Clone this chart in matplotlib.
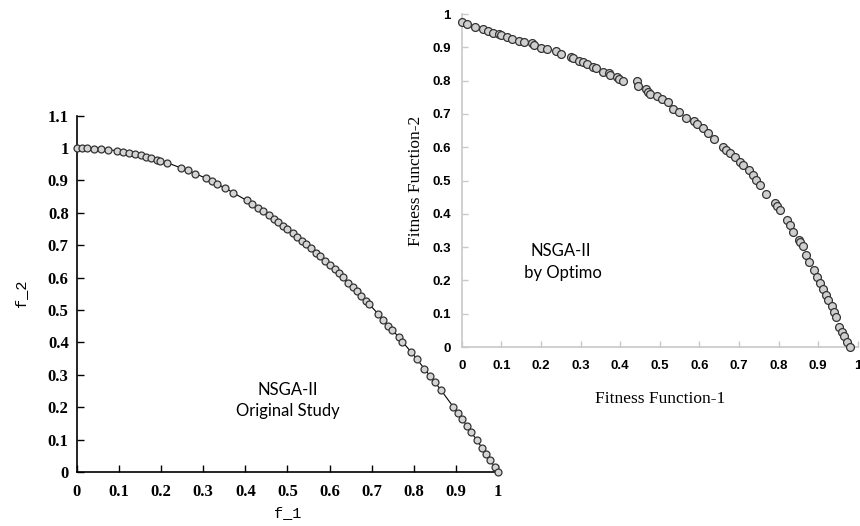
import matplotlib
matplotlib.use('Agg')
import matplotlib.pyplot as plt

# left panel: NSGA-II original study
orig_f1 = [0.0, 0.013, 0.024, 0.04, 0.058, 0.074, 0.096, 0.109, 0.123, 0.139,
           0.151, 0.163, 0.177, 0.19, 0.198, 0.213, 0.248, 0.263, 0.281, 0.307,
           0.321, 0.332, 0.352, 0.371, 0.403, 0.415, 0.429, 0.443, 0.455, 0.468,
           0.478, 0.49, 0.5, 0.512, 0.523, 0.535, 0.545, 0.556, 0.568, 0.578,
           0.59, 0.6, 0.612, 0.622, 0.632, 0.645, 0.655, 0.665, 0.675, 0.686,
           0.694, 0.716, 0.728, 0.74, 0.749, 0.764, 0.773, 0.794, 0.807, 0.825,
           0.839, 0.85, 0.865, 0.894, 0.905, 0.915, 0.927, 0.937, 0.95, 0.962,
           0.972, 0.981, 0.992, 1.0]
orig_f2 = [1.0, 1.0, 0.999, 0.998, 0.997, 0.995, 0.991, 0.988, 0.985, 0.981,
           0.977, 0.973, 0.969, 0.964, 0.961, 0.955, 0.938, 0.931, 0.921, 0.906,
           0.897, 0.89, 0.876, 0.862, 0.838, 0.828, 0.816, 0.804, 0.793, 0.781,
           0.772, 0.76, 0.75, 0.738, 0.726, 0.714, 0.703, 0.691, 0.677, 0.666,
           0.652, 0.64, 0.625, 0.613, 0.601, 0.584, 0.571, 0.558, 0.544, 0.529,
           0.518, 0.487, 0.47, 0.452, 0.439, 0.416, 0.402, 0.37, 0.349, 0.319,
           0.296, 0.278, 0.252, 0.201, 0.181, 0.163, 0.141, 0.122, 0.098, 0.075,
           0.055, 0.038, 0.016, 0.0]

# right panel: NSGA-II by Optimo
opt_f1 = [0.0, 0.012, 0.033, 0.054, 0.066, 0.079, 0.093, 0.098, 0.115, 0.127,
          0.144, 0.156, 0.178, 0.182, 0.201, 0.216, 0.237, 0.25, 0.275, 0.281,
          0.295, 0.306, 0.316, 0.33, 0.338, 0.357, 0.372, 0.375, 0.392, 0.397,
          0.407, 0.443, 0.445, 0.466, 0.471, 0.476, 0.492, 0.506, 0.521, 0.534,
          0.549, 0.567, 0.586, 0.593, 0.608, 0.622, 0.636, 0.66, 0.668, 0.677,
          0.689, 0.702, 0.71, 0.726, 0.734, 0.744, 0.753, 0.768, 0.79, 0.796,
          0.803, 0.82, 0.828, 0.837, 0.852, 0.854, 0.862, 0.87, 0.877, 0.889,
          0.896, 0.904, 0.911, 0.919, 0.925, 0.934, 0.939, 0.946, 0.953, 0.959,
          0.965, 0.973, 0.98]
opt_f2 = [0.977, 0.97, 0.962, 0.954, 0.948, 0.944, 0.94, 0.936, 0.93, 0.926,
          0.92, 0.915, 0.912, 0.908, 0.899, 0.894, 0.89, 0.879, 0.872, 0.867,
          0.86, 0.855, 0.849, 0.842, 0.837, 0.827, 0.822, 0.816, 0.81, 0.804,
          0.799, 0.799, 0.784, 0.774, 0.767, 0.76, 0.754, 0.744, 0.735, 0.714,
          0.707, 0.689, 0.679, 0.67, 0.659, 0.642, 0.624, 0.602, 0.592, 0.582,
          0.572, 0.556, 0.547, 0.532, 0.517, 0.502, 0.486, 0.461, 0.433, 0.423,
          0.41, 0.381, 0.366, 0.346, 0.321, 0.316, 0.303, 0.276, 0.256, 0.231,
          0.211, 0.191, 0.173, 0.156, 0.141, 0.123, 0.106, 0.089, 0.061, 0.046,
          0.033, 0.016, 0.0]

left_yticks = [0, 0.1, 0.2, 0.3, 0.4, 0.5, 0.6, 0.7, 0.8, 0.9, 1, 1.1]
left_xticks = [0, 0.1, 0.2, 0.3, 0.4, 0.5, 0.6, 0.7, 0.8, 0.9, 1]
right_ticks = [0, 0.1, 0.2, 0.3, 0.4, 0.5, 0.6, 0.7, 0.8, 0.9, 1]


def lbl(v):
    # 0 and 1 are written without decimals in both panels
    if v == 0:
        return '0'
    if v == 1:
        return '1'
    return str(v)


fig = plt.figure(figsize=(8.6, 5.26), dpi=100)

# ---- left panel
ax1 = fig.add_axes([0.0895, 0.1027, 0.4895, 0.6776])
ax1.patch.set_alpha(0)
ax1.plot(orig_f1, orig_f2, '-o', color='black', lw=0.8, ms=5,
         mfc='#d4d4d4', mec='#333333', mew=0.9, clip_on=False, zorder=3)
ax1.set_xlim(0, 1)
ax1.set_ylim(0, 1.1)
for s in ['top', 'right']:
    ax1.spines[s].set_visible(False)
for s in ['left', 'bottom']:
    ax1.spines[s].set_linewidth(1.2)
ax1.set_xticks(left_xticks)
ax1.set_xticklabels([lbl(v) for v in left_xticks])
ax1.set_yticks(left_yticks)
ax1.set_yticklabels([lbl(v) for v in left_yticks])
ax1.tick_params(direction='in', length=5, width=1, pad=6)
ax1.tick_params(axis='x', pad=9)
for lab in ax1.get_xticklabels() + ax1.get_yticklabels():
    lab.set_fontfamily('Liberation Serif')
    lab.set_fontweight('bold')
    lab.set_fontsize(12)
ax1.set_xlabel('f_1', family='Liberation Mono', fontsize=11, labelpad=4)
ax1.set_ylabel('f_2', family='Liberation Mono', fontsize=11, labelpad=14)
ax1.text(0.5, 0.22, 'NSGA-II\nOriginal Study', ha='center', va='center',
         family='Lato', fontsize=12, linespacing=1.4)

# ---- right panel
ax2 = fig.add_axes([0.537, 0.3403, 0.4605, 0.633])
ax2.patch.set_alpha(0)
ax2.scatter(opt_f1, opt_f2, s=32, c='#cfcfcf', edgecolors='#333333',
            linewidths=0.9, clip_on=False, zorder=3)
ax2.set_xlim(0, 1)
ax2.set_ylim(0, 1)
for s in ['top', 'right']:
    ax2.spines[s].set_visible(False)
for s in ['left', 'bottom']:
    ax2.spines[s].set_color('#c8c8c8')
    ax2.spines[s].set_linewidth(1.2)
ax2.set_xticks(right_ticks)
ax2.set_xticklabels([lbl(v) for v in right_ticks])
ax2.set_yticks(right_ticks)
ax2.set_yticklabels([lbl(v) for v in right_ticks])
ax2.tick_params(direction='in', length=4, width=1, color='#c8c8c8', pad=8)
ax2.tick_params(axis='x', pad=9)
for lab in ax2.get_xticklabels() + ax2.get_yticklabels():
    lab.set_fontfamily('Liberation Sans')
    lab.set_fontweight('bold')
    lab.set_fontsize(9.5)
ax2.set_xlabel('Fitness Function-1', family='Liberation Serif', fontsize=12.5, labelpad=14)
ax2.set_ylabel('Fitness Function-2', family='Liberation Serif', fontsize=12.5, labelpad=6)
ax2.text(0.25, 0.255, 'NSGA-II\n by Optimo', ha='center', va='center',
         family='Lato', fontsize=12, linespacing=1.4)

fig.savefig('out.png', dpi=100)
